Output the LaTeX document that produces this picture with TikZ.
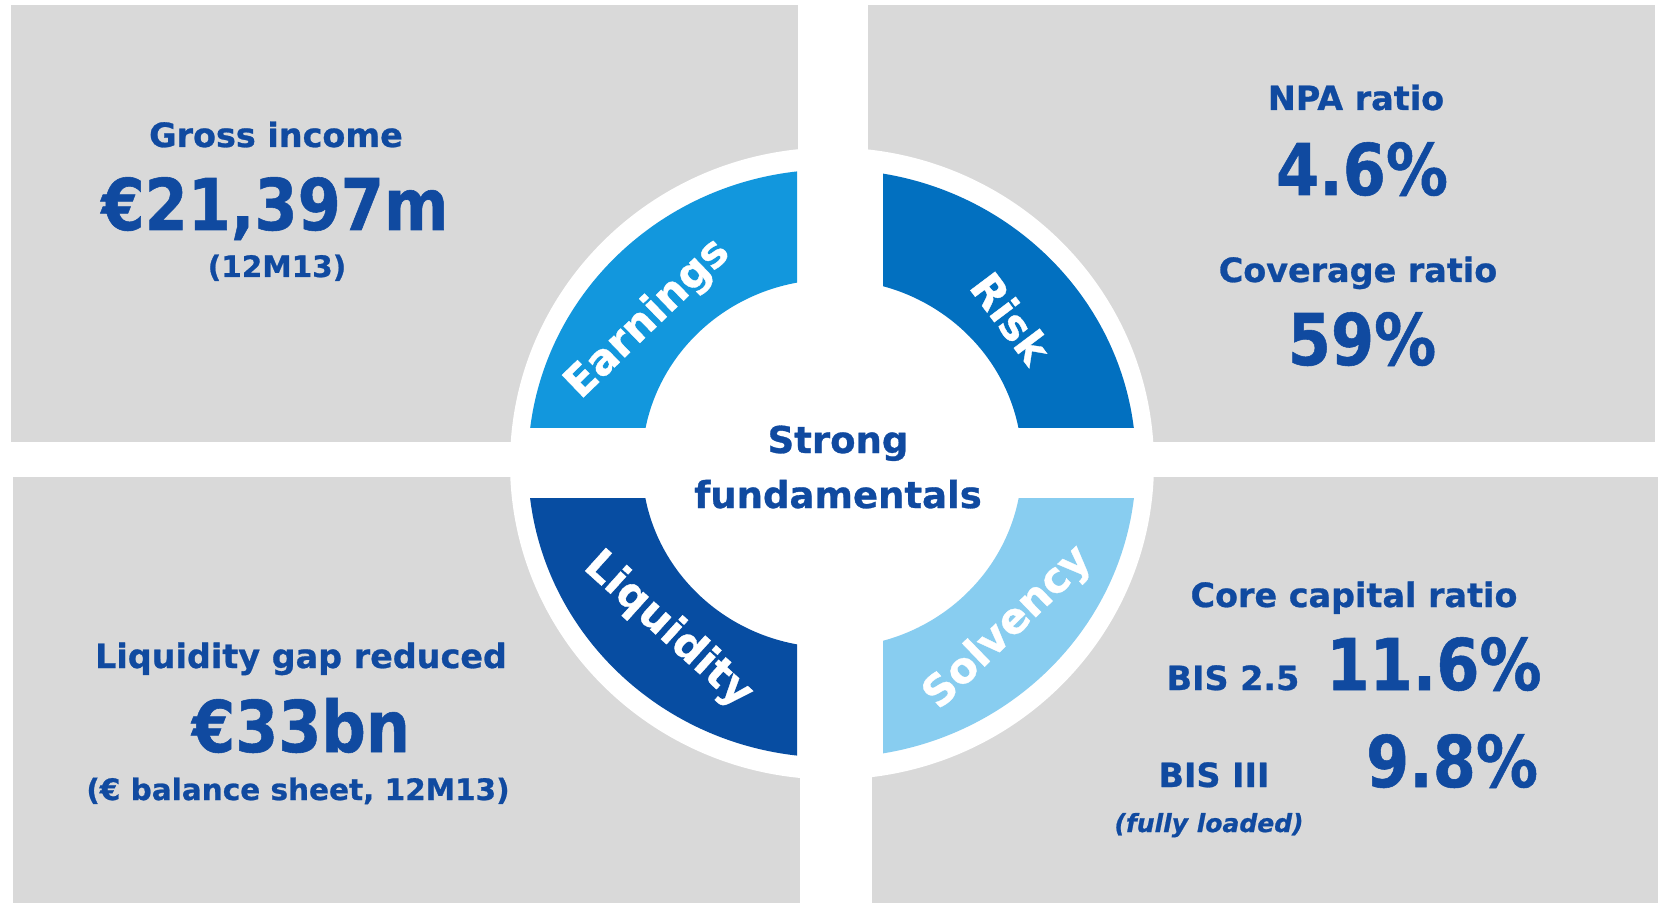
\documentclass[tikz,border=0pt]{standalone}
\usepackage{fontspec}
\usepackage{graphicx}
\setmainfont{DejaVu Sans}[BoldFont={DejaVu Sans Bold},ItalicFont={DejaVu Sans Oblique},BoldItalicFont={DejaVu Sans Bold Oblique},BoldFeatures={FakeBold=0.8},BoldItalicFeatures={FakeBold=0.8}]

\definecolor{panelgray}{RGB}{217,217,217}
\definecolor{textblue}{RGB}{16,74,160}
\definecolor{earnblue}{RGB}{18,151,221}
\definecolor{riskblue}{RGB}{2,112,192}
\definecolor{liqblue}{RGB}{7,77,162}
\definecolor{solvblue}{RGB}{136,205,240}

\newcommand{\tallnum}[1]{\scalebox{1}[1.15]{#1}}

\tikzset{
    panel/.style={fill=panelgray},
    heading/.style={anchor=base, inner sep=0pt, text=textblue, font=\bfseries\fontsize{16.7}{18}\selectfont},
    bignum/.style={anchor=base, inner sep=0pt, text=textblue, font=\bfseries\fontsize{31}{34}\selectfont},
    note/.style={anchor=base, inner sep=0pt, text=textblue, font=\bfseries\fontsize{14.75}{16}\selectfont},
    loaded/.style={anchor=base, inner sep=0pt, text=textblue, font=\bfseries\itshape\fontsize{12.5}{14}\selectfont},
    centre/.style={anchor=base, inner sep=0pt, text=textblue, font=\bfseries\fontsize{18.5}{20}\selectfont},
    seglabel/.style={inner sep=0pt, text=white, font=\bfseries\fontsize{21.25}{23}\selectfont}
}

\begin{document}
\begin{tikzpicture}[x=0.5pt,y=-0.5pt]
        \useasboundingbox (0,0) rectangle (1658,903);
        \fill[white] (0,0) rectangle (1658,903);

        % grey panels
        \fill[panel] (11,5) rectangle (798,442);
        \fill[panel] (868,5) rectangle (1655,442);
        \fill[panel] (13,477) rectangle (800,903);
        \fill[panel] (872,477) rectangle (1658,903);

        % ring
        \coordinate (hub) at (832,463.5);
        \fill[white] (hub) ellipse [x radius=322, y radius=316];
        \foreach \xa/\xb/\ya/\yb/\segcol in {0/797/0/427/earnblue, 883/1658/0/427/riskblue, 0/797/498/903/liqblue, 883/1658/498/903/solvblue} {
            \begin{scope}
                \clip (\xa,\ya) rectangle (\xb,\yb);
                \fill[fill=\segcol, even odd rule] (hub) ellipse [x radius=304, y radius=294] (hub) ellipse [x radius=190, y radius=184];
            \end{scope}
        }

        \node[seglabel, rotate=44] (earn) at (648,319) {Earnings};
        \node[seglabel, rotate=-53] (risk) at (1011,318) {Risk};
        \node[seglabel, rotate=-42] (liq) at (668,630) {Liquidity};
        \node[seglabel, rotate=44] (solv) at (1008,628) {Solvency};

        \node[centre] (strong) at (838,453) {Strong};
        \node[centre] (fund) at (838,508) {fundamentals};

        % earnings panel
        \node[heading] (gross) at (276,147) {Gross income};
        \node[bignum] (grossval) at (275,230) {\tallnum{€21,397m}};
        \node[note] (grossper) at (277,277) {(12M13)};

        % risk panel
        \node[heading] (npa) at (1356,110) {NPA ratio};
        \node[bignum] (npaval) at (1362,195) {\tallnum{4.6\%}};
        \node[heading] (cover) at (1358,282) {Coverage ratio};
        \node[bignum] (coverval) at (1362,365) {\tallnum{59\%}};

        % liquidity panel
        \node[heading] (liqgap) at (301,668) {Liquidity gap reduced};
        \node[bignum] (liqval) at (301,752) {\tallnum{€33bn}};
        \node[note] (liqper) at (298,800) {(€ balance sheet, 12M13)};

        % solvency panel
        \node[heading] (core) at (1354,607) {Core capital ratio};
        \node[heading] (bistwo) at (1233,690) {BIS 2.5};
        \node[bignum] (bistwoval) at (1434,690) {\tallnum{11.6\%}};
        \node[heading] (bisthree) at (1214,787) {BIS III};
        \node[bignum] (bisthreeval) at (1452,787) {\tallnum{9.8\%}};
        \node[loaded] (full) at (1209,832) {(fully loaded)};
    \end{tikzpicture}
\end{document}
